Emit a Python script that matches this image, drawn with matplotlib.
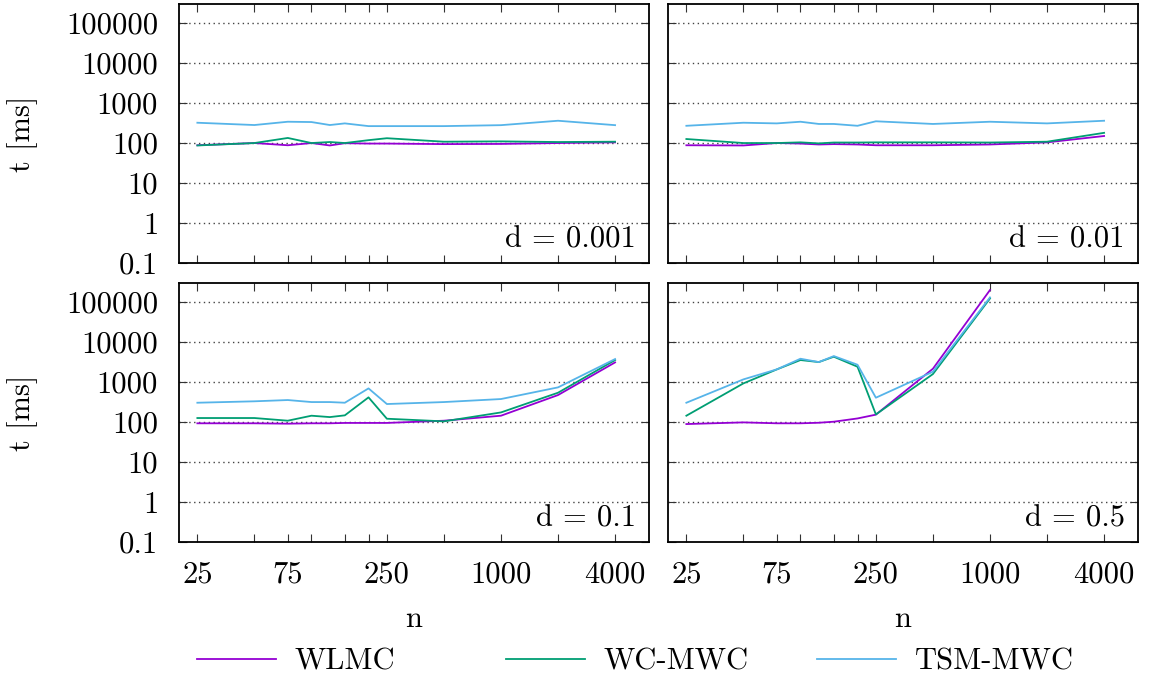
import numpy as np
import matplotlib
matplotlib.use('Agg')
import matplotlib.pyplot as plt
from matplotlib.ticker import FixedLocator, FixedFormatter, LogLocator, NullFormatter

plt.rcParams['font.family'] = 'cmr10'
plt.rcParams['axes.formatter.use_mathtext'] = True
plt.rcParams['font.size'] = 22

# problem sizes
n = [25, 50, 75, 100, 125, 150, 200, 250, 500, 1000, 2000, 4000]
n_05 = n[:10]  # d = 0.5 stops at 1000

# runtimes in ms, d = 0.001
wlmc_0001 = [88, 100, 88, 100, 87, 99, 97, 97, 94, 95, 100, 104]
wcmwc_0001 = [87, 100, 134, 100, 106, 100, 118, 132, 108, 110, 106, 108]
tsm_0001 = [322, 282, 341, 335, 282, 310, 265, 265, 265, 280, 361, 280]

# d = 0.01
wlmc_001 = [88, 87, 100, 97, 92, 94, 92, 88, 88, 92, 104, 150]
wcmwc_001 = [126, 100, 100, 104, 98, 103, 103, 104, 104, 103, 108, 180]
tsm_001 = [270, 322, 310, 341, 300, 300, 270, 350, 300, 341, 310, 361]

# d = 0.1
wlmc_01 = [93, 93, 91, 93, 93, 95, 95, 95, 108, 144, 473, 3100]
wcmwc_01 = [126, 126, 108, 144, 133, 147, 414, 121, 104, 174, 541, 3550]
tsm_01 = [304, 330, 355, 316, 316, 304, 694, 282, 316, 376, 736, 3760]

# d = 0.5
wlmc_05 = [89, 98, 93, 93, 96, 102, 123, 153, 2154, 200000]
wcmwc_05 = [144, 926, 2070, 3550, 3160, 4300, 2415, 155, 1585, 123000]
tsm_05 = [304, 1166, 2073, 3830, 3160, 4460, 2710, 406, 1813, 130900]

panels = [
    ('d = 0.001', n, wlmc_0001, wcmwc_0001, tsm_0001),
    ('d = 0.01', n, wlmc_001, wcmwc_001, tsm_001),
    ('d = 0.1', n, wlmc_01, wcmwc_01, tsm_01),
    ('d = 0.5', n_05, wlmc_05, wcmwc_05, tsm_05),
]

names = ['WLMC', 'WC-MWC', 'TSM-MWC']
colors = ['#9400d3', '#009e73', '#56b4e9']

x_ticks = [25, 50, 75, 100, 150, 200, 250, 500, 1000, 2000, 4000]
x_labels = ['25', '', '75', '', '', '', '250', '', '1000', '', '4000']
y_ticks = [0.1, 1, 10, 100, 1000, 10000, 100000]
y_labels = ['0.1', '1', '10', '100', '1000', '10000', '100000']

W, H = 1149, 682
fig = plt.figure(figsize=(W / 100, H / 100), dpi=100)

# panel boxes in pixels: (left, top, right, bottom)
boxes = [(179, 4, 649, 263), (668, 4, 1138, 263),
         (179, 283, 649, 542), (668, 283, 1138, 542)]

lines = []
for i, (label, xs, a, b, c) in enumerate(panels):
    l, t, r, btm = boxes[i]
    ax = fig.add_axes([l / W, 1 - btm / H, (r - l) / W, (btm - t) / H])
    ax.set_xscale('log')
    ax.set_yscale('log')
    ax.set_xlim(20, 6040)
    ax.set_ylim(0.1, 300000)

    for ys, name, col in zip((a, b, c), names, colors):
        ln, = ax.plot(xs, ys, color=col, linewidth=1.3, label=name)
        if i == 0:
            lines.append(ln)

    for y in y_ticks[1:]:
        ax.axhline(y, color='#444444', linewidth=1.0, linestyle=(0, (1, 2.5)), zorder=0)

    ax.xaxis.set_major_locator(FixedLocator(x_ticks))
    ax.xaxis.set_minor_locator(FixedLocator([]))
    ax.yaxis.set_major_locator(FixedLocator(y_ticks))
    ax.yaxis.set_minor_locator(LogLocator(base=10, subs=np.arange(2, 10)))
    ax.yaxis.set_minor_formatter(NullFormatter())

    ax.tick_params(which='both', direction='in', top=True, right=True,
                   width=0.8, color='#333333')
    ax.tick_params(which='major', length=6)
    ax.tick_params(which='minor', length=3)
    ax.tick_params(axis='y', pad=15)
    ax.tick_params(axis='x', pad=14)

    if i >= 2:
        ax.xaxis.set_major_formatter(FixedFormatter(x_labels))
        ax.set_xlabel('n', labelpad=12)
    else:
        ax.xaxis.set_major_formatter(NullFormatter())
    if i % 2 == 0:
        ax.yaxis.set_major_formatter(FixedFormatter(y_labels))
        ax.set_ylabel('t [ms]', labelpad=20)
    else:
        ax.yaxis.set_major_formatter(NullFormatter())

    for s in ax.spines.values():
        s.set_linewidth(1.3)

    ax.text(0.972, 0.058, label, transform=ax.transAxes, ha='right', va='baseline')

# legend below, one per entry so the columns sit where the reference has them
legend_x = [197, 506, 817]
for ln, lx in zip(lines, legend_x):
    fig.legend(handles=[ln], loc='center left', bbox_to_anchor=(lx / W, 1 - 662 / H),
               frameon=False, handlelength=2.6, handletextpad=0.6,
               borderpad=0, borderaxespad=0)

fig.savefig('out.png', dpi=100)
